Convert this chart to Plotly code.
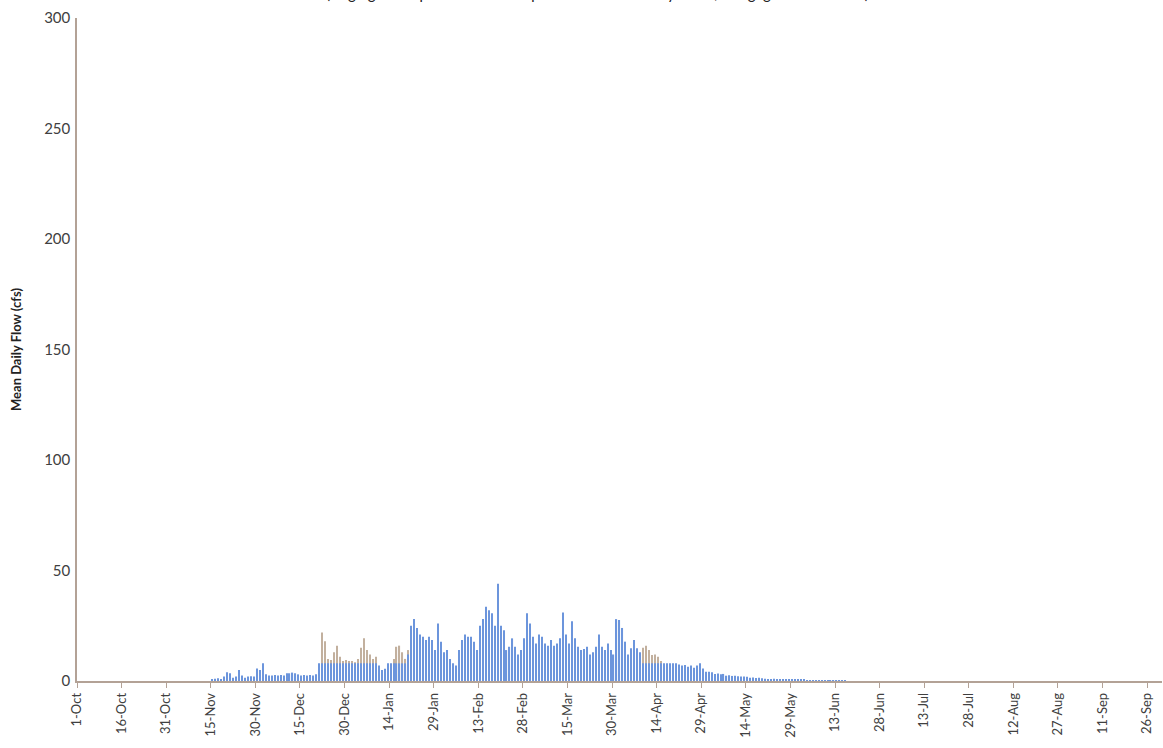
import plotly.graph_objects as go

# Water-year day index 0 = 1-Oct ... 364 = 30-Sep
# Mean daily flow (cfs), blue series
flow_blue = [
    # Oct
    0, 0, 0, 0, 0, 0, 0, 0, 0, 0, 0, 0, 0, 0, 0, 0, 0, 0, 0, 0, 0, 0, 0, 0, 0, 0, 0, 0, 0, 0, 0,
    # Nov
    0, 0, 0, 0, 0, 0, 0, 0, 0, 0, 0, 0, 0, 0, 0.5, 1.0, 1.2, 0.8, 2.0, 4.0, 3.5, 1.5, 2.0, 5.0, 2.5,
    1.5, 2.0, 2.2, 2.0, 5.7,
    # Dec
    5.0, 8.0, 3.0, 2.5, 2.5, 2.7, 2.5, 2.7, 2.5, 3.5, 3.5, 3.8, 3.5, 3.0, 2.5, 2.7, 2.5, 2.7, 2.5, 3.0,
    8.0, 8.0, 8.0, 8.0, 8.0, 8.0, 8.0, 8.0, 8.0, 8.0, 8.0,
    # Jan
    8.0, 8.0, 8.0, 8.0, 8.0, 8.0, 8.0, 8.0, 8.0, 7.0, 5.0, 5.5, 8.0, 8.0, 8.0, 8.0, 8.0, 8.0, 8.0, 12.0,
    25.0, 28.0, 24.0, 21.0, 20.0, 18.5, 20.0, 18.5, 14.0, 26.0, 17.8,
    # Feb
    13.0, 14.0, 10.0, 8.0, 7.0, 14.0, 18.5, 21.0, 20.0, 20.0, 17.8, 14.0, 25.0, 28.0, 33.6, 32.0, 30.6,
    25.0, 44.0, 25.0, 23.0, 14.0, 15.5, 19.3, 15.5, 12.0, 14.0, 19.3,
    # Mar
    30.6, 26.0, 20.0, 17.0, 21.0, 20.0, 17.0, 16.0, 18.5, 16.0, 17.0, 19.3, 31.0, 21.0, 17.0, 27.0,
    19.3, 15.5, 14.0, 14.5, 15.5, 12.0, 13.0, 15.5, 21.0, 15.5, 14.0, 17.0, 14.0, 12.0, 28.0,
    # Apr
    27.6, 24.0, 17.8, 12.0, 14.8, 18.5, 14.8, 13.0, 8.0, 8.0, 8.0, 8.0, 8.0, 8.0, 8.0, 8.0, 8.0, 8.0,
    8.0, 8.0, 7.5, 7.0, 7.2, 6.5, 7.0, 6.0, 7.0, 8.0, 5.7, 4.2,
    # May
    4.2, 4.0, 3.2, 3.4, 3.0, 3.2, 2.4, 2.6, 2.3, 2.4, 2.2, 2.0, 2.0, 1.9, 1.5, 1.6, 1.4, 1.5, 1.3, 1.0,
    0.9, 0.9, 1.0, 0.8, 0.9, 0.8, 0.8, 0.7, 0.6, 0.6, 0.5,
    # Jun
    0.5, 0.5, 0.4, 0.4, 0.4, 0.3, 0.3, 0.3, 0.3, 0.2, 0.2, 0.2, 0.2, 0.1, 0.1, 0.1, 0, 0, 0, 0, 0, 0,
    0, 0, 0, 0, 0, 0, 0, 0,
    # Jul
    0, 0, 0, 0, 0, 0, 0, 0, 0, 0, 0, 0, 0, 0, 0, 0, 0, 0, 0, 0, 0, 0, 0, 0, 0, 0, 0, 0, 0, 0, 0,
    # Aug
    0, 0, 0, 0, 0, 0, 0, 0, 0, 0, 0, 0, 0, 0, 0, 0, 0, 0, 0, 0, 0, 0, 0, 0, 0, 0, 0, 0, 0, 0, 0,
    # Sep
    0, 0, 0, 0, 0, 0, 0, 0, 0, 0, 0, 0, 0, 0, 0, 0, 0, 0, 0, 0, 0, 0, 0, 0, 0, 0, 0, 0, 0, 0,
]

# Mean daily flow (cfs), tan series (drawn behind the blue bars)
flow_tan = [
    # Oct
    0, 0, 0, 0, 0, 0, 0, 0, 0, 0, 0, 0, 0, 0, 0, 0, 0, 0, 0, 0, 0, 0, 0, 0, 0, 0, 0, 0, 0, 0, 0,
    # Nov
    0, 0, 0, 0, 0, 0, 0, 0, 0, 0, 0, 0, 0, 0, 0, 0, 0, 0, 0, 0, 0, 0, 0, 0, 0, 0, 0, 0, 0, 0,
    # Dec
    0, 0, 0, 0, 0, 0, 0, 0, 0, 0, 0, 0, 0, 0, 0, 0, 0, 0, 0, 0, 0, 22.0, 18.0, 10.0, 9.5, 13.0, 16.0,
    11.0, 9.0, 9.5, 9.0,
    # Jan
    9.0, 8.5, 10.0, 15.0, 19.3, 14.0, 12.0, 10.0, 11.0, 0, 0, 0, 0, 0, 10.0, 15.5, 16.0, 13.0, 10.0,
    14.0, 0, 0, 0, 0, 0, 0, 0, 0, 0, 0, 0,
    # Feb
    0, 0, 0, 0, 0, 0, 0, 0, 0, 0, 0, 0, 0, 0, 0, 0, 0, 0, 0, 0, 0, 0, 0, 0, 0, 0, 0, 0,
    # Mar
    0, 0, 0, 0, 0, 0, 0, 0, 0, 0, 0, 0, 0, 0, 0, 0, 0, 0, 0, 0, 0, 0, 0, 0, 0, 0, 0, 0, 0, 0, 0,
    # Apr
    0, 0, 0, 0, 0, 0, 0, 0, 15.0, 16.0, 14.0, 11.8, 12.0, 11.0, 9.0, 0, 0, 0, 0, 0, 0, 0, 0, 0, 0, 0,
    0, 0, 0, 0,
    # May
    0, 0, 0, 0, 0, 0, 0, 0, 0, 0, 0, 0, 0, 0, 0, 0, 0, 0, 0, 0, 0, 0, 0, 0, 0, 0, 0, 0, 0, 0, 0,
    # Jun
    0, 0, 0, 0, 0, 0, 0, 0, 0, 0, 0, 0, 0, 0, 0, 0, 0, 0, 0, 0, 0, 0, 0, 0, 0, 0, 0, 0, 0, 0,
    # Jul
    0, 0, 0, 0, 0, 0, 0, 0, 0, 0, 0, 0, 0, 0, 0, 0, 0, 0, 0, 0, 0, 0, 0, 0, 0, 0, 0, 0, 0, 0, 0,
    # Aug
    0, 0, 0, 0, 0, 0, 0, 0, 0, 0, 0, 0, 0, 0, 0, 0, 0, 0, 0, 0, 0, 0, 0, 0, 0, 0, 0, 0, 0, 0, 0,
    # Sep
    0, 0, 0, 0, 0, 0, 0, 0, 0, 0, 0, 0, 0, 0, 0, 0, 0, 0, 0, 0, 0, 0, 0, 0, 0, 0, 0, 0, 0, 0,
]

tick_labels = ["1-Oct", "16-Oct", "31-Oct", "15-Nov", "30-Nov", "15-Dec", "30-Dec", "14-Jan",
               "29-Jan", "13-Feb", "28-Feb", "15-Mar", "30-Mar", "14-Apr", "29-Apr", "14-May",
               "29-May", "13-Jun", "28-Jun", "13-Jul", "28-Jul", "12-Aug", "27-Aug", "11-Sep",
               "26-Sep"]
tick_days = [0, 15, 30, 45, 60, 75, 90, 105, 120, 135, 150, 165, 180, 195, 210, 225, 240, 255,
             270, 285, 300, 315, 330, 345, 360]

title_text = "(Gaging site equivalent flows equal to estimated daily flows; see gage record notes)"

days = [d + 0.5 for d in range(len(flow_blue))]

axis_col = "#b3a296"
text_col = "#404040"
font_family = "Lato, 'Open Sans', sans-serif"

fig = go.Figure()
fig.add_trace(go.Bar(x=days, y=flow_tan, width=0.38, marker=dict(color="#c2b09e", line=dict(width=0)),
                     name="tan", showlegend=False))
fig.add_trace(go.Bar(x=days, y=flow_blue, width=0.38, marker=dict(color="#6c95dc", line=dict(width=0)),
                     name="blue", showlegend=False))

fig.update_layout(
    width=1163, height=748,
    margin=dict(l=77, r=1, t=18, b=67),
    paper_bgcolor="white", plot_bgcolor="white",
    barmode="overlay",
    font=dict(family=font_family, color=text_col),
    xaxis=dict(range=[0, 365], tickmode="array", tickvals=tick_days, ticktext=tick_labels,
               tickangle=-90, ticks="outside", ticklen=5, tickcolor=axis_col, tickwidth=1,
               showline=True, linecolor=axis_col, linewidth=1.5, showgrid=False, zeroline=False,
               tickfont=dict(size=13, color=text_col)),
    yaxis=dict(range=[0, 300], tickvals=[0, 50, 100, 150, 200, 250, 300], ticks="",
               showline=True, linecolor=axis_col, linewidth=1.5, showgrid=False, zeroline=False,
               tickfont=dict(size=15, color=text_col), ticklabelstandoff=2,
               title=dict(text="<b>Mean Daily Flow (cfs)</b>", font=dict(size=13, color="#222"),
                          standoff=20)),
    annotations=[dict(text=title_text, xref="paper", yref="paper", x=0.48, y=1.021,
                      xanchor="center", yanchor="bottom", showarrow=False,
                      font=dict(size=15, color="#222", family=font_family))],
)

fig.write_html("out.html")
